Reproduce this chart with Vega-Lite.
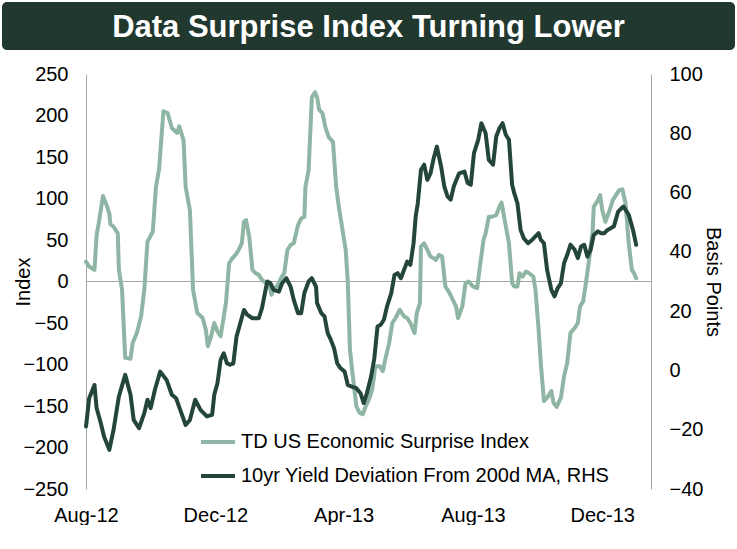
{
  "$schema": "https://vega.github.io/schema/vega-lite/v6.json",
  "padding": {"left": 2, "top": 2, "right": 2, "bottom": 0},
  "background": "white",
  "config": {
    "font": "Liberation Sans",
    "view": {"stroke": null}
  },
  "datasets": {
    "surprise": [
      {"date": "2012/08/01", "index": 24}, {"date": "2012/08/04", "index": 18}, {"date": "2012/08/09", "index": 14},
      {"date": "2012/08/11", "index": 56}, {"date": "2012/08/13", "index": 70}, {"date": "2012/08/17", "index": 103},
      {"date": "2012/08/21", "index": 90}, {"date": "2012/08/23", "index": 82}, {"date": "2012/08/24", "index": 69},
      {"date": "2012/08/27", "index": 66}, {"date": "2012/08/31", "index": 58}, {"date": "2012/09/01", "index": 14},
      {"date": "2012/09/04", "index": -10}, {"date": "2012/09/07", "index": -92}, {"date": "2012/09/12", "index": -93},
      {"date": "2012/09/14", "index": -74}, {"date": "2012/09/18", "index": -62}, {"date": "2012/09/22", "index": -42},
      {"date": "2012/09/25", "index": -10}, {"date": "2012/09/28", "index": 48}, {"date": "2012/10/03", "index": 60},
      {"date": "2012/10/06", "index": 114}, {"date": "2012/10/09", "index": 136}, {"date": "2012/10/13", "index": 205},
      {"date": "2012/10/17", "index": 203}, {"date": "2012/10/21", "index": 185}, {"date": "2012/10/26", "index": 179},
      {"date": "2012/10/28", "index": 187}, {"date": "2012/11/01", "index": 170}, {"date": "2012/11/03", "index": 114},
      {"date": "2012/11/07", "index": 86}, {"date": "2012/11/10", "index": -10}, {"date": "2012/11/14", "index": -38},
      {"date": "2012/11/19", "index": -44}, {"date": "2012/11/22", "index": -58}, {"date": "2012/11/24", "index": -78},
      {"date": "2012/11/27", "index": -66}, {"date": "2012/11/30", "index": -50}, {"date": "2012/12/03", "index": -60},
      {"date": "2012/12/06", "index": -66}, {"date": "2012/12/09", "index": -42}, {"date": "2012/12/11", "index": -26},
      {"date": "2012/12/14", "index": 22}, {"date": "2012/12/17", "index": 28}, {"date": "2012/12/20", "index": 32},
      {"date": "2012/12/23", "index": 38}, {"date": "2012/12/26", "index": 46}, {"date": "2012/12/28", "index": 72},
      {"date": "2012/12/30", "index": 74}, {"date": "2013/01/02", "index": 54}, {"date": "2013/01/05", "index": 14},
      {"date": "2013/01/08", "index": 10}, {"date": "2013/01/11", "index": 8}, {"date": "2013/01/14", "index": 2},
      {"date": "2013/01/18", "index": -2}, {"date": "2013/01/21", "index": -4}, {"date": "2013/01/23", "index": -16},
      {"date": "2013/01/25", "index": -10}, {"date": "2013/01/29", "index": -4}, {"date": "2013/02/01", "index": 4},
      {"date": "2013/02/04", "index": 10}, {"date": "2013/02/07", "index": 38}, {"date": "2013/02/10", "index": 44},
      {"date": "2013/02/13", "index": 46}, {"date": "2013/02/17", "index": 68}, {"date": "2013/02/20", "index": 76},
      {"date": "2013/02/23", "index": 78}, {"date": "2013/02/24", "index": 114}, {"date": "2013/02/27", "index": 134},
      {"date": "2013/03/02", "index": 221}, {"date": "2013/03/03", "index": 224}, {"date": "2013/03/05", "index": 228},
      {"date": "2013/03/07", "index": 222}, {"date": "2013/03/09", "index": 207}, {"date": "2013/03/12", "index": 203},
      {"date": "2013/03/15", "index": 185}, {"date": "2013/03/18", "index": 174}, {"date": "2013/03/22", "index": 168},
      {"date": "2013/03/25", "index": 114}, {"date": "2013/03/28", "index": 86}, {"date": "2013/03/31", "index": 62},
      {"date": "2013/04/03", "index": 38}, {"date": "2013/04/05", "index": -2}, {"date": "2013/04/07", "index": -82},
      {"date": "2013/04/09", "index": -106}, {"date": "2013/04/13", "index": -150}, {"date": "2013/04/16", "index": -158},
      {"date": "2013/04/19", "index": -160}, {"date": "2013/04/22", "index": -150}, {"date": "2013/04/25", "index": -142},
      {"date": "2013/04/28", "index": -130}, {"date": "2013/05/01", "index": -102}, {"date": "2013/05/05", "index": -102},
      {"date": "2013/05/08", "index": -108}, {"date": "2013/05/11", "index": -90}, {"date": "2013/05/14", "index": -74},
      {"date": "2013/05/17", "index": -50}, {"date": "2013/05/20", "index": -44}, {"date": "2013/05/24", "index": -34},
      {"date": "2013/05/28", "index": -42}, {"date": "2013/05/31", "index": -44}, {"date": "2013/06/03", "index": -50},
      {"date": "2013/06/07", "index": -62}, {"date": "2013/06/09", "index": -38}, {"date": "2013/06/12", "index": -26},
      {"date": "2013/06/13", "index": 42}, {"date": "2013/06/16", "index": 46}, {"date": "2013/06/19", "index": 38},
      {"date": "2013/06/22", "index": 30}, {"date": "2013/06/25", "index": 28}, {"date": "2013/06/27", "index": 26},
      {"date": "2013/06/30", "index": 32}, {"date": "2013/07/03", "index": 30}, {"date": "2013/07/06", "index": -6},
      {"date": "2013/07/10", "index": -14}, {"date": "2013/07/13", "index": -22}, {"date": "2013/07/16", "index": -30},
      {"date": "2013/07/18", "index": -44}, {"date": "2013/07/22", "index": -30}, {"date": "2013/07/25", "index": -2},
      {"date": "2013/07/28", "index": 0}, {"date": "2013/08/01", "index": -6}, {"date": "2013/08/05", "index": -8},
      {"date": "2013/08/08", "index": 22}, {"date": "2013/08/11", "index": 50}, {"date": "2013/08/13", "index": 58},
      {"date": "2013/08/16", "index": 78}, {"date": "2013/08/19", "index": 78}, {"date": "2013/08/23", "index": 80},
      {"date": "2013/08/26", "index": 90}, {"date": "2013/08/28", "index": 95}, {"date": "2013/08/31", "index": 74},
      {"date": "2013/09/04", "index": 46}, {"date": "2013/09/07", "index": -2}, {"date": "2013/09/09", "index": -6},
      {"date": "2013/09/12", "index": -6}, {"date": "2013/09/14", "index": 10}, {"date": "2013/09/17", "index": 6},
      {"date": "2013/09/20", "index": 12}, {"date": "2013/09/23", "index": 10}, {"date": "2013/09/27", "index": 6},
      {"date": "2013/09/29", "index": -10}, {"date": "2013/10/02", "index": -58}, {"date": "2013/10/04", "index": -98},
      {"date": "2013/10/07", "index": -144}, {"date": "2013/10/10", "index": -140}, {"date": "2013/10/14", "index": -132},
      {"date": "2013/10/16", "index": -146}, {"date": "2013/10/19", "index": -151}, {"date": "2013/10/23", "index": -140},
      {"date": "2013/10/26", "index": -114}, {"date": "2013/10/29", "index": -98}, {"date": "2013/11/01", "index": -62},
      {"date": "2013/11/05", "index": -56}, {"date": "2013/11/08", "index": -50}, {"date": "2013/11/10", "index": -30},
      {"date": "2013/11/13", "index": -24}, {"date": "2013/11/16", "index": 2}, {"date": "2013/11/19", "index": 30},
      {"date": "2013/11/22", "index": 62}, {"date": "2013/11/23", "index": 90}, {"date": "2013/11/27", "index": 98},
      {"date": "2013/11/29", "index": 104}, {"date": "2013/12/01", "index": 86}, {"date": "2013/12/04", "index": 72},
      {"date": "2013/12/08", "index": 86}, {"date": "2013/12/11", "index": 98}, {"date": "2013/12/14", "index": 104},
      {"date": "2013/12/17", "index": 110}, {"date": "2013/12/20", "index": 111}, {"date": "2013/12/23", "index": 94},
      {"date": "2013/12/26", "index": 46}, {"date": "2013/12/29", "index": 14}, {"date": "2013/12/31", "index": 10},
      {"date": "2014/01/02", "index": 4}
    ],
    "yield": [
      {"date": "2012/08/01", "bp": -18.9}, {"date": "2012/08/04", "bp": -9.4}, {"date": "2012/08/09", "bp": -4.9},
      {"date": "2012/08/11", "bp": -12.7}, {"date": "2012/08/15", "bp": -17.8}, {"date": "2012/08/18", "bp": -22.3},
      {"date": "2012/08/23", "bp": -26.8}, {"date": "2012/08/27", "bp": -20}, {"date": "2012/09/01", "bp": -8.8},
      {"date": "2012/09/07", "bp": -1.5}, {"date": "2012/09/12", "bp": -8.2}, {"date": "2012/09/15", "bp": -16.7},
      {"date": "2012/09/20", "bp": -19.5}, {"date": "2012/09/25", "bp": -14.4}, {"date": "2012/09/28", "bp": -9.9},
      {"date": "2012/10/01", "bp": -12.7}, {"date": "2012/10/05", "bp": -6.5}, {"date": "2012/10/10", "bp": -0.4},
      {"date": "2012/10/16", "bp": -3.2}, {"date": "2012/10/21", "bp": -8.2}, {"date": "2012/10/25", "bp": -9.4},
      {"date": "2012/10/30", "bp": -14.4}, {"date": "2012/11/03", "bp": -18.4}, {"date": "2012/11/07", "bp": -16.7},
      {"date": "2012/11/12", "bp": -9.9}, {"date": "2012/11/17", "bp": -13.3}, {"date": "2012/11/23", "bp": -15.5},
      {"date": "2012/11/28", "bp": -15}, {"date": "2012/11/30", "bp": -8.2}, {"date": "2012/12/03", "bp": -4.3},
      {"date": "2012/12/06", "bp": 3.6}, {"date": "2012/12/09", "bp": 5.8}, {"date": "2012/12/12", "bp": 2.4},
      {"date": "2012/12/15", "bp": 1.9}, {"date": "2012/12/18", "bp": 2.4}, {"date": "2012/12/21", "bp": 11.4},
      {"date": "2012/12/25", "bp": 16.5}, {"date": "2012/12/28", "bp": 20.4}, {"date": "2012/12/31", "bp": 18.8},
      {"date": "2013/01/05", "bp": 17.6}, {"date": "2013/01/11", "bp": 17.6}, {"date": "2013/01/14", "bp": 21},
      {"date": "2013/01/18", "bp": 28.3}, {"date": "2013/01/19", "bp": 30}, {"date": "2013/01/22", "bp": 29.4},
      {"date": "2013/01/25", "bp": 27.2}, {"date": "2013/01/30", "bp": 26.6}, {"date": "2013/02/02", "bp": 29.4},
      {"date": "2013/02/06", "bp": 31.1}, {"date": "2013/02/10", "bp": 28.3}, {"date": "2013/02/13", "bp": 23.8},
      {"date": "2013/02/17", "bp": 19.3}, {"date": "2013/02/20", "bp": 19.3}, {"date": "2013/02/23", "bp": 26.1},
      {"date": "2013/02/27", "bp": 30}, {"date": "2013/03/02", "bp": 31.1}, {"date": "2013/03/06", "bp": 28.3},
      {"date": "2013/03/07", "bp": 22.7}, {"date": "2013/03/11", "bp": 19.3}, {"date": "2013/03/14", "bp": 18.2},
      {"date": "2013/03/17", "bp": 12.6}, {"date": "2013/03/20", "bp": 10.3}, {"date": "2013/03/23", "bp": 7.5},
      {"date": "2013/03/26", "bp": 2.4}, {"date": "2013/03/29", "bp": 0.8}, {"date": "2013/04/02", "bp": -0.4},
      {"date": "2013/04/05", "bp": -4.9}, {"date": "2013/04/08", "bp": -5.4}, {"date": "2013/04/13", "bp": -6},
      {"date": "2013/04/17", "bp": -7.7}, {"date": "2013/04/20", "bp": -11}, {"date": "2013/04/23", "bp": -7.7},
      {"date": "2013/04/27", "bp": -2}, {"date": "2013/04/30", "bp": 4.1}, {"date": "2013/05/03", "bp": 14.8},
      {"date": "2013/05/06", "bp": 15.4}, {"date": "2013/05/09", "bp": 17.1}, {"date": "2013/05/12", "bp": 21.6},
      {"date": "2013/05/16", "bp": 26.1}, {"date": "2013/05/19", "bp": 32.2}, {"date": "2013/05/22", "bp": 32.8},
      {"date": "2013/05/25", "bp": 31.1}, {"date": "2013/05/28", "bp": 33.9}, {"date": "2013/05/31", "bp": 36.7},
      {"date": "2013/06/03", "bp": 35.6}, {"date": "2013/06/06", "bp": 42.9}, {"date": "2013/06/08", "bp": 51.9},
      {"date": "2013/06/10", "bp": 56.4}, {"date": "2013/06/13", "bp": 67.7}, {"date": "2013/06/16", "bp": 69.4},
      {"date": "2013/06/19", "bp": 64.3}, {"date": "2013/06/22", "bp": 66.5}, {"date": "2013/06/25", "bp": 71.6},
      {"date": "2013/06/28", "bp": 75.5}, {"date": "2013/07/02", "bp": 68.8}, {"date": "2013/07/05", "bp": 62.1},
      {"date": "2013/07/08", "bp": 58.7}, {"date": "2013/07/11", "bp": 57.6}, {"date": "2013/07/14", "bp": 62.1},
      {"date": "2013/07/19", "bp": 66.5}, {"date": "2013/07/24", "bp": 67.1}, {"date": "2013/07/27", "bp": 63.2},
      {"date": "2013/07/30", "bp": 62.6}, {"date": "2013/08/02", "bp": 73.3}, {"date": "2013/08/06", "bp": 77.8},
      {"date": "2013/08/09", "bp": 83.4}, {"date": "2013/08/13", "bp": 80}, {"date": "2013/08/16", "bp": 71},
      {"date": "2013/08/20", "bp": 69.4}, {"date": "2013/08/23", "bp": 78.9}, {"date": "2013/08/26", "bp": 81.7},
      {"date": "2013/08/29", "bp": 83.4}, {"date": "2013/09/01", "bp": 79.5}, {"date": "2013/09/04", "bp": 77.8},
      {"date": "2013/09/07", "bp": 62.6}, {"date": "2013/09/09", "bp": 59.8}, {"date": "2013/09/12", "bp": 56.4},
      {"date": "2013/09/15", "bp": 47.4}, {"date": "2013/09/18", "bp": 44.6}, {"date": "2013/09/22", "bp": 42.9},
      {"date": "2013/09/26", "bp": 44.1}, {"date": "2013/09/29", "bp": 45.2}, {"date": "2013/10/02", "bp": 46.3},
      {"date": "2013/10/04", "bp": 44.1}, {"date": "2013/10/07", "bp": 42.9}, {"date": "2013/10/10", "bp": 33.9},
      {"date": "2013/10/14", "bp": 27.2}, {"date": "2013/10/17", "bp": 25}, {"date": "2013/10/20", "bp": 27.8},
      {"date": "2013/10/23", "bp": 29.4}, {"date": "2013/10/26", "bp": 36.2}, {"date": "2013/10/29", "bp": 39},
      {"date": "2013/11/01", "bp": 42.4}, {"date": "2013/11/05", "bp": 40.7}, {"date": "2013/11/08", "bp": 37.9},
      {"date": "2013/11/11", "bp": 41.8}, {"date": "2013/11/14", "bp": 42.4}, {"date": "2013/11/17", "bp": 38.4},
      {"date": "2013/11/20", "bp": 40.7}, {"date": "2013/11/23", "bp": 45.7}, {"date": "2013/11/27", "bp": 46.9},
      {"date": "2013/11/30", "bp": 46.3}, {"date": "2013/12/03", "bp": 46.3}, {"date": "2013/12/06", "bp": 47.4},
      {"date": "2013/12/09", "bp": 48}, {"date": "2013/12/12", "bp": 48.6}, {"date": "2013/12/16", "bp": 53.6},
      {"date": "2013/12/19", "bp": 54.7}, {"date": "2013/12/21", "bp": 55.3}, {"date": "2013/12/24", "bp": 53.6},
      {"date": "2013/12/26", "bp": 52.5}, {"date": "2013/12/30", "bp": 47.4}, {"date": "2014/01/02", "bp": 42.4}
    ]
  },
  "center": true,
  "bounds": "flush",
  "spacing": 24,
  "resolve": {"scale": {"color": "independent"}, "legend": {"color": "independent"}},
  "vconcat": [
    {
      "width": 733,
      "height": 48,
      "view": {"fill": "#21382f", "stroke": null, "cornerRadius": 5},
      "data": {"values": [{"t": "Data Surprise Index Turning Lower"}]},
      "mark": {"type": "text", "font": "Liberation Sans", "fontSize": 31, "fontWeight": "bold", "color": "white", "dy": 2},
      "encoding": {"text": {"field": "t", "type": "nominal"}}
    },
    {
      "width": 565,
      "height": 415,
      "layer": [
        {
          "layer": [
            {
              "data": {"values": [{}]},
              "mark": {"type": "rule", "color": "#a6a6a6", "strokeWidth": 1},
              "encoding": {
                "y": {
                  "datum": 0, "type": "quantitative",
                  "scale": {"domain": [-250, 250], "nice": false, "zero": false},
                  "axis": {
                    "orient": "left", "title": "Index",
                    "values": [-250, -200, -150, -100, -50, 0, 50, 100, 150, 200, 250],
                    "titleFontSize": 20, "titleFontWeight": "normal", "titleColor": "black",
                    "labelFontSize": 20, "labelColor": "black", "ticks": false, "grid": false,
                    "domainColor": "#a6a6a6", "domainWidth": 1, "labelPadding": 18,
                    "minExtent": 50, "maxExtent": 50, "titlePadding": 3
                  }
                }
              }
            },
            {
              "data": {"name": "surprise"},
              "mark": {"type": "line", "strokeWidth": 4, "strokeJoin": "round", "strokeCap": "round"},
              "encoding": {
                "x": {
                  "field": "date", "type": "temporal",
                  "scale": {"domain": [{"year": 2012, "month": 8, "date": 1}, {"year": 2014, "month": 1, "date": 16}]},
                  "axis": {
                    "values": [{"year": 2012, "month": 8, "date": 1}, {"year": 2012, "month": 12, "date": 1}, {"year": 2013, "month": 4, "date": 1}, {"year": 2013, "month": 8, "date": 1}, {"year": 2013, "month": 12, "date": 1}],
                    "format": "%b-%y", "title": null, "labelFontSize": 20, "labelColor": "black",
                    "ticks": false, "domain": false, "grid": false, "labelPadding": 16,
                    "labelFlush": false, "labelOverlap": false
                  }
                },
                "y": {
                  "field": "index", "type": "quantitative",
                  "scale": {"domain": [-250, 250], "nice": false, "zero": false},
                  "axis": {
                    "orient": "left", "title": "Index",
                    "values": [-250, -200, -150, -100, -50, 0, 50, 100, 150, 200, 250],
                    "titleFontSize": 20, "titleFontWeight": "normal", "titleColor": "black",
                    "labelFontSize": 20, "labelColor": "black", "ticks": false, "grid": false,
                    "domainColor": "#a6a6a6", "domainWidth": 1, "labelPadding": 18,
                    "minExtent": 50, "maxExtent": 50, "titlePadding": 3
                  }
                },
                "color": {
                  "datum": "TD US Economic Surprise Index",
                  "scale": {
                    "domain": ["TD US Economic Surprise Index", "10yr Yield Deviation From 200d MA, RHS"],
                    "range": ["#8fb5a4", "#24463a"]
                  },
                  "legend": {
                    "orient": "none", "legendX": 113, "legendY": 349, "title": null,
                    "symbolType": "stroke", "symbolStrokeWidth": 4, "symbolSize": 1156,
                    "labelFontSize": 20, "labelColor": "black", "rowPadding": 5,
                    "labelOffset": 4, "padding": 0, "labelLimit": 400
                  }
                }
              }
            }
          ]
        },
        {
          "data": {"name": "yield"},
          "mark": {"type": "line", "strokeWidth": 4, "strokeJoin": "round", "strokeCap": "round"},
          "encoding": {
            "x": {
              "field": "date", "type": "temporal",
              "scale": {"domain": [{"year": 2012, "month": 8, "date": 1}, {"year": 2014, "month": 1, "date": 16}]},
              "axis": {
                "values": [{"year": 2012, "month": 8, "date": 1}, {"year": 2012, "month": 12, "date": 1}, {"year": 2013, "month": 4, "date": 1}, {"year": 2013, "month": 8, "date": 1}, {"year": 2013, "month": 12, "date": 1}],
                "format": "%b-%y", "title": null, "labelFontSize": 20, "labelColor": "black",
                "ticks": false, "domain": false, "grid": false, "labelPadding": 16,
                "labelFlush": false, "labelOverlap": false
              }
            },
            "y": {
              "field": "bp", "type": "quantitative",
              "scale": {"domain": [-40, 100], "nice": false, "zero": false},
              "axis": {
                "orient": "right", "title": "Basis Points",
                "values": [-40, -20, 0, 20, 40, 60, 80, 100],
                "titleFontSize": 20, "titleFontWeight": "normal", "titleColor": "black",
                "labelFontSize": 20, "labelColor": "black", "ticks": false, "grid": false,
                "domainColor": "#a6a6a6", "domainWidth": 1, "labelPadding": 18,
                "minExtent": 51, "maxExtent": 51, "titlePadding": 0
              }
            },
            "color": {"datum": "10yr Yield Deviation From 200d MA, RHS"}
          }
        }
      ],
      "resolve": {"scale": {"y": "independent"}}
    }
  ]
}
